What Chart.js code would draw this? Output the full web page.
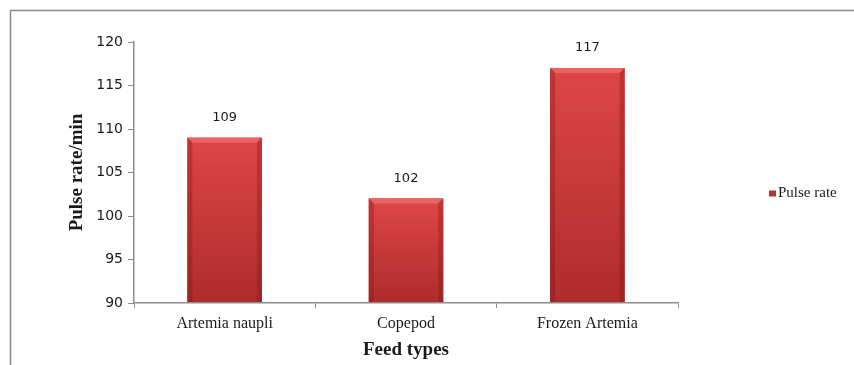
<!DOCTYPE html>
<html>
<head>
<meta charset="utf-8">
<script src="https://cdn.jsdelivr.net/npm/chart.js@4/dist/chart.umd.min.js"></script>
<style>
  html, body { margin: 0; padding: 0; background: #ffffff; }
  #wrap { width: 854px; height: 365px; position: relative; }
</style>
</head>
<body>
<div id="wrap"><canvas id="c" width="854" height="365"></canvas></div>
<script>
// Pulse rate per feed type
const feedTypes = ['Artemia naupli', 'Copepod', 'Frozen Artemia'];
const pulseRate = [109, 102, 117];
const yTicks = [90, 95, 100, 105, 110, 115, 120];
const seriesName = 'Pulse rate';

const SERIF = '"Liberation Serif", "Times New Roman", serif';
const SANS = '"DejaVu Sans", Tahoma, sans-serif';
const AXIS_GREY = '#8c8c8c';

// Outer frame line (left and top edges)
const framePlugin = {
  id: 'frame',
  beforeDraw(chart) {
    const ctx = chart.ctx;
    ctx.save();
    ctx.fillStyle = '#ffffff';
    ctx.fillRect(0, 0, chart.width, chart.height);
    ctx.strokeStyle = '#8a8a8a';
    ctx.lineWidth = 1.5;
    ctx.beginPath();
    ctx.moveTo(10.5, chart.height);
    ctx.lineTo(10.5, 10.5);
    ctx.lineTo(chart.width, 10.5);
    ctx.stroke();
    ctx.restore();
  }
};

// Bevelled bar shading and value labels
const barStylePlugin = {
  id: 'barStyle',
  afterDatasetsDraw(chart) {
    const ctx = chart.ctx;
    const meta = chart.getDatasetMeta(0);
    const area = chart.chartArea;
    meta.data.forEach((bar, i) => {
      const { x, y, base, width } = bar.getProps(['x', 'y', 'base', 'width'], true);
      const l = x - width / 2, r = x + width / 2, t = y;
      const b = Math.min(base, area.bottom);
      const bev = 5;
      ctx.save();
      // body: vertical gradient, lighter at the top
      const g = ctx.createLinearGradient(0, t, 0, b);
      g.addColorStop(0, '#de4646');
      g.addColorStop(0.45, '#c93a3a');
      g.addColorStop(1, '#b02c2c');
      ctx.fillStyle = g;
      ctx.fillRect(l, t, width, b - t);
      // top bevel
      ctx.fillStyle = '#ea6262';
      ctx.beginPath();
      ctx.moveTo(l, t); ctx.lineTo(r, t); ctx.lineTo(r - bev, t + bev); ctx.lineTo(l + bev, t + bev);
      ctx.closePath(); ctx.fill();
      // side bevels
      const sg = ctx.createLinearGradient(0, t, 0, b);
      sg.addColorStop(0, '#c23434');
      sg.addColorStop(1, '#9c2424');
      ctx.fillStyle = sg;
      ctx.beginPath();
      ctx.moveTo(l, t); ctx.lineTo(l + bev, t + bev); ctx.lineTo(l + bev, b); ctx.lineTo(l, b);
      ctx.closePath(); ctx.fill();
      ctx.beginPath();
      ctx.moveTo(r, t); ctx.lineTo(r - bev, t + bev); ctx.lineTo(r - bev, b); ctx.lineTo(r, b);
      ctx.closePath(); ctx.fill();
      // value label
      ctx.fillStyle = '#1a1a1a';
      ctx.font = '13px ' + SANS;
      ctx.textAlign = 'center';
      ctx.textBaseline = 'middle';
      ctx.fillText(String(pulseRate[i]), x, t - 20);
      ctx.restore();
    });
  }
};

// Legend entry on the right
const legendPlugin = {
  id: 'sideLegend',
  afterDraw(chart) {
    const ctx = chart.ctx;
    const cy = (chart.chartArea.top + chart.chartArea.bottom) / 2 + 21;
    const lx = 769;
    ctx.save();
    ctx.fillStyle = '#b83232';
    ctx.fillRect(lx, cy - 3, 7, 6);
    ctx.fillStyle = '#1a1a1a';
    ctx.font = '15px ' + SERIF;
    ctx.textAlign = 'left';
    ctx.textBaseline = 'middle';
    ctx.fillText(seriesName, lx + 9, cy);
    ctx.restore();
  }
};

new Chart(document.getElementById('c'), {
  type: 'bar',
  data: {
    labels: feedTypes,
    datasets: [{
      label: seriesName,
      data: pulseRate,
      backgroundColor: '#c93a3a',
      borderWidth: 0,
      barPercentage: 0.41,
      categoryPercentage: 1.0
    }]
  },
  options: {
    responsive: false,
    animation: false,
    events: [],
    layout: { padding: { left: 0, top: 42, right: 176, bottom: 0 } },
    plugins: {
      legend: { display: false },
      tooltip: { enabled: false }
    },
    scales: {
      x: {
        grid: {
          display: true,
          drawOnChartArea: false,
          drawTicks: true,
          tickLength: 5,
          color: AXIS_GREY,
          offset: true
        },
        border: { display: true, color: AXIS_GREY, width: 1.5, z: 1 },
        ticks: {
          color: '#1a1a1a',
          font: { family: SERIF, size: 16 },
          padding: 6,
          maxRotation: 0
        },
        title: {
          display: true,
          text: 'Feed types',
          color: '#1a1a1a',
          font: { family: SERIF, size: 19, weight: 'bold' },
          padding: { top: 0, bottom: 4 }
        },
        afterFit(scale) { scale.height = 62; }
      },
      y: {
        min: yTicks[0],
        max: yTicks[yTicks.length - 1],
        afterBuildTicks(scale) { scale.ticks = yTicks.map(v => ({ value: v })); },
        grid: {
          display: true,
          drawOnChartArea: false,
          drawTicks: true,
          tickLength: 6,
          color: AXIS_GREY
        },
        border: { display: true, color: AXIS_GREY, width: 1.5 },
        ticks: {
          color: '#1a1a1a',
          font: { family: SANS, size: 14 },
          padding: 5
        },
        title: {
          display: true,
          text: 'Pulse rate/min',
          color: '#1a1a1a',
          font: { family: SERIF, size: 19, weight: 'bold' },
          padding: { top: 66, bottom: 0 }
        },
        afterFit(scale) { scale.width = 134; }
      }
    }
  },
  plugins: [framePlugin, barStylePlugin, legendPlugin]
});
</script>
</body>
</html>
